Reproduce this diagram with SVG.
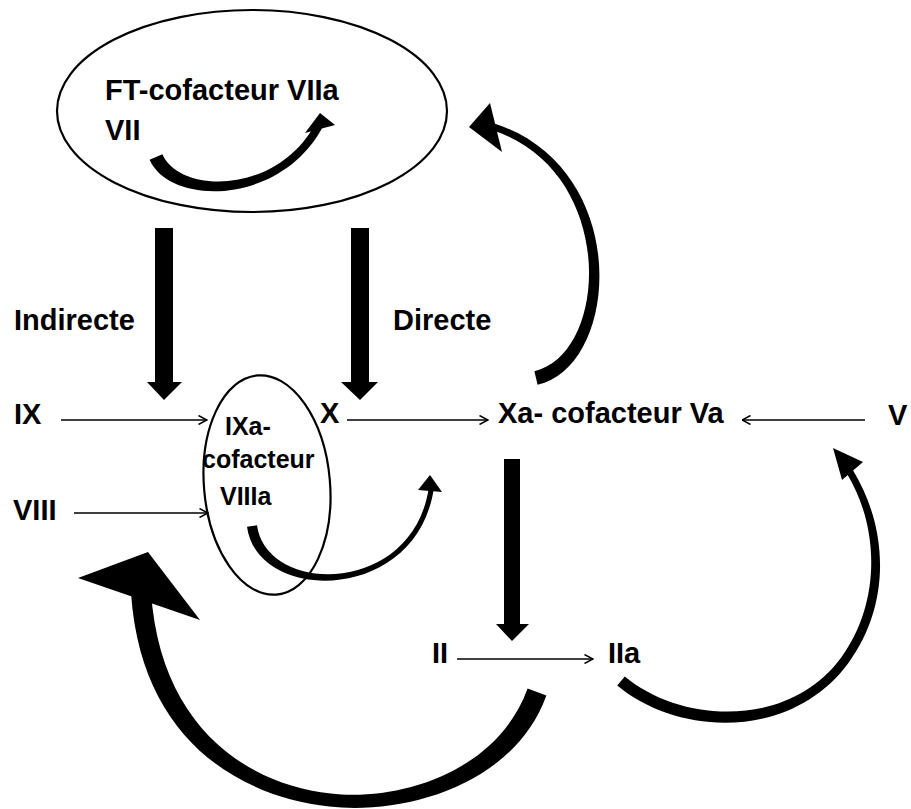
<svg xmlns="http://www.w3.org/2000/svg" width="911" height="809" viewBox="0 0 911 809">
<defs>
<style>
.t{font-family:"Liberation Sans",Arial,sans-serif;font-weight:bold;font-size:29px;fill:#000}
.ts{font-family:"Liberation Sans",Arial,sans-serif;font-weight:bold;font-size:25px;fill:#000}
.ring{fill:none;stroke:#000;stroke-width:2.2}
.thin{fill:none;stroke:#000;stroke-width:1.6}
.solid{fill:#000;stroke:none}
</style>
<marker id="open" viewBox="0 0 10 10" refX="9.5" refY="5" markerWidth="10" markerHeight="10" markerUnits="userSpaceOnUse" orient="auto">
<path d="M1,0.5 L9.5,5 L1,9.5" fill="none" stroke="#000" stroke-width="1.5"/>
</marker>
</defs>
<rect width="911" height="809" fill="#fff"/>

<g id="node-ft">
<ellipse class="ring" cx="252" cy="111" rx="195" ry="101"/>
<text class="t" x="105" y="100">FT-cofacteur VIIa</text>
<text class="t" x="105" y="140">VII</text>
</g>

<g id="node-ixa">
<ellipse class="ring" cx="267" cy="485" rx="63" ry="110" transform="rotate(-5 267 485)"/>
<text class="ts" x="225" y="435">IXa-</text>
<text class="ts" x="202" y="468">cofacteur</text>
<text class="ts" x="220" y="505">VIIIa</text>
</g>

<g id="node-labels">
<text class="t" x="14" y="330">Indirecte</text>
<text class="t" x="393" y="330">Directe</text>
<text class="t" x="14" y="424">IX</text>
<text class="t" x="13" y="520">VIII</text>
<text class="t" x="320" y="423">X</text>
<text class="t" x="498" y="423">Xa- cofacteur Va</text>
<text class="t" x="888" y="425">V</text>
<text class="t" x="432" y="663">II</text>
<text class="t" x="608" y="663">IIa</text>
</g>

<g id="connectors">
<!-- thin straight arrows -->
<line class="thin" x1="61" y1="420" x2="207" y2="420" marker-end="url(#open)"/>
<line class="thin" x1="74" y1="513" x2="208" y2="513" marker-end="url(#open)"/>
<line class="thin" x1="347" y1="420" x2="488" y2="420" marker-end="url(#open)"/>
<line class="thin" x1="865" y1="420" x2="742" y2="420" marker-end="url(#open)"/>
<line class="thin" x1="457" y1="659" x2="593" y2="659" marker-end="url(#open)"/>

<!-- thick straight down arrows -->
<polygon class="solid" points="155,228 173,228 173,382 182,382 164,400 147,382 155,382"/>
<polygon class="solid" points="351,228 369,228 369,382 378,382 360,400 341,382 351,382"/>
<polygon class="solid" points="504,459 520,459 520,624 529,624 512,641 496,624 504,624"/>

<!-- VII -> FT-cofacteur VIIa (tapered curved arrow) -->
<path class="solid" d="M149.6 159.8 C169.9 205.8 278.9 206.2 321.9 128.5 L314.9 124.7 C275.9 195 180.1 194.2 162.4 154.2 Z"/>
<polygon class="solid" points="320,113 335,125 305,133"/>

<!-- IXa-VIIIa -> Xa -->
<path class="solid" d="M247 526.7 C257.5 604.4 417 603.8 433.8 488.4 L428.8 487.6 C413 596.2 266.5 595.6 257 525.3 Z"/>
<polygon class="solid" points="430,475 442,492 418,490"/>

<!-- Xa -> FT (feedback) -->
<path class="solid" d="M537.6 384.8 C620.5 365.9 632.7 168.9 495.1 123.7 L492.9 130.3 C617.4 171.1 609.5 354.1 534.4 371.2 Z"/>
<polygon class="solid" points="469,127 490,103 502,152"/>

<!-- IIa -> V -->
<path class="solid" d="M617.2 685.6 C678.6 736.6 791.4 740.7 848.6 662.7 C890.2 605.5 889.4 530.5 853 470.2 L847 473.8 C880.6 529.5 879.8 604.5 841.4 657.3 C788.6 729.3 681.4 723.4 624.8 676.4 Z"/>
<polygon class="solid" points="833,448 863,462 842,480"/>

<!-- II/IIa -> VIII (big feedback) -->
<path class="solid" d="M546.4 695.4 C513.1 786.9 402.1 814.8 329.3 806.5 C235.7 796.1 140.4 736.2 131 592.7 L151 591.4 C159.6 723.9 244.3 784 330.7 793.6 C397.9 801.3 496.9 773.1 527.6 688.6 Z"/>
<polygon class="solid" points="78,578 148,552 200,620"/>
</g>
</svg>
